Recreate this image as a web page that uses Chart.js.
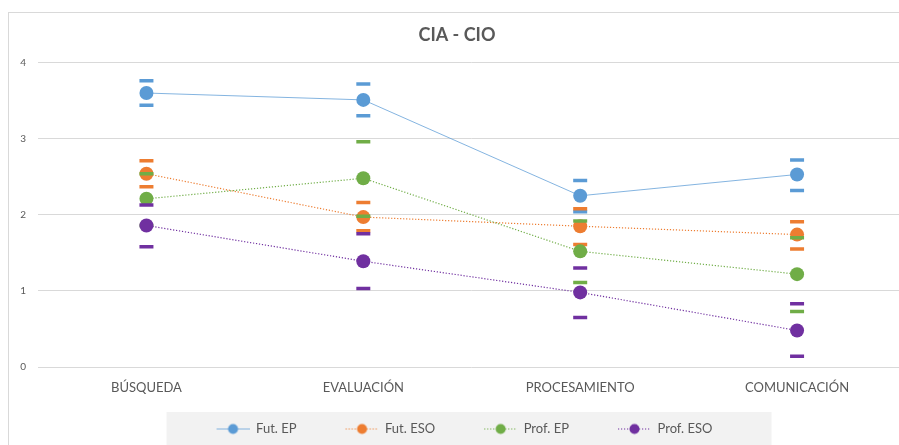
<!DOCTYPE html>
<html lang="es">
<head>
    <meta charset="UTF-8">
    <title>CIA - CIO</title>
    <script src="https://cdn.jsdelivr.net/npm/chart.js"></script>
</head>
<style type="text/css">
  html, body {
    margin: 0;
    padding: 0;
    background: #ffffff;
    overflow: hidden;
  }
  canvas {
    display: block;
  }
</style>
<body>
    <canvas id="graph" width="916" height="445"></canvas>
    <script>
// categorías y valores
const categories = ['BÚSQUEDA', 'EVALUACIÓN', 'PROCESAMIENTO', 'COMUNICACIÓN'];
const seriesNames = ['Fut. EP', 'Fut. ESO', 'Prof. EP', 'Prof. ESO'];
const yTicks = [0, 1, 2, 3, 4];

const futEP = [3.60, 3.51, 2.25, 2.53];
const futESO = [2.54, 1.97, 1.85, 1.74];
const profEP = [2.21, 2.48, 1.52, 1.22];
const profESO = [1.86, 1.39, 0.98, 0.48];

// extremos de las barras de error (guiones)
const futEPUpper = [3.76, 3.72, 2.45, 2.72];
const futEPLower = [3.44, 3.30, 2.04, 2.32];
const futESOUpper = [2.71, 2.16, 2.08, 1.91];
const futESOLower = [2.37, 1.79, 1.61, 1.55];
const profEPUpper = [2.54, 2.96, 1.92, 1.70];
const profEPLower = [1.86, 1.98, 1.11, 0.73];
const profESOUpper = [2.13, 1.75, 1.30, 0.83];
const profESOLower = [1.58, 1.03, 0.65, 0.14];

const colors = ['#5B9BD5', '#ED7D31', '#70AD47', '#7030A0'];
const dashes = [[], [1.2, 1.8], [1.2, 1.8], [1.2, 1.8]];
const widths = [0.75, 1.2, 1.2, 1.2];

const values = [futEP, futESO, profEP, profESO];
const uppers = [futEPUpper, futESOUpper, profEPUpper, profESOUpper];
const lowers = [futEPLower, futESOLower, profEPLower, profESOLower];

const textColor = '#595959';
const fontFamily = 'Lato, "Open Sans", sans-serif';

// símbolo de la leyenda: línea con círculo
function legendSymbol(color, dash, width) {
    const c = document.createElement('canvas');
    c.width = 76;
    c.height = 14;
    const g = c.getContext('2d');
    g.strokeStyle = color;
    g.lineWidth = width;
    g.setLineDash(dash);
    g.beginPath();
    g.moveTo(43, 7.5);
    g.lineTo(76, 7.5);
    g.stroke();
    g.setLineDash([]);
    g.fillStyle = color;
    g.beginPath();
    g.arc(59.5, 7.5, 5, 0, Math.PI * 2);
    g.fill();
    return c;
}
const symbols = colors.map((c, i) => legendSymbol(c, dashes[i], widths[i]));

const datasets = [];
values.forEach((v, i) => {
    datasets.push({
        label: seriesNames[i],
        data: v,
        borderColor: colors[i],
        backgroundColor: colors[i],
        borderWidth: widths[i],
        borderDash: dashes[i],
        pointStyle: 'circle',
        pointRadius: 7,
        pointHoverRadius: 7,
        pointBorderWidth: 0,
        fill: false,
        order: 80 - i * 20
    });
});
values.forEach((v, i) => {
    [uppers[i], lowers[i]].forEach((d) => {
        datasets.push({
            label: seriesNames[i] + ' error',
            data: d,
            showLine: false,
            pointStyle: 'line',
            pointRadius: 7,
            pointHoverRadius: 7,
            pointBorderColor: colors[i],
            pointBorderWidth: 3.5,
            borderColor: colors[i],
            order: 70 - i * 20
        });
    });
});

const backdrop = {
    id: 'backdrop',
    afterLayout(chart) {
        // la leyenda está un poco a la izquierda del centro
        chart.legend.left -= 14;
        chart.legend.right -= 14;
    },
    beforeDraw(chart) {
        const c = chart.ctx;
        const lg = chart.legend;
        c.save();
        // borde del área del gráfico
        c.strokeStyle = '#d9d9d9';
        c.lineWidth = 1;
        c.strokeRect(8.5, 12.5, 900, 500);
        // fondo gris de la leyenda
        const pad = lg.options.labels.padding;
        const start = (lg.left + pad + lg.right - lg.lineWidths[0]) / 2;
        c.fillStyle = '#f2f2f2';
        c.fillRect(start + 43 - 50, lg.top - 4, 605, chart.height - lg.top + 4);
        c.restore();
    }
};

const ctx = document.getElementById('graph').getContext('2d');
let chart = new Chart(ctx, {
    type: 'line',
    data: {
        labels: categories,
        datasets: datasets
    },
    plugins: [backdrop],
    options: {
        responsive: false,
        animation: false,
        events: [],
        layout: {
            padding: { left: 8, right: 10, top: 12, bottom: 0 }
        },
        plugins: {
            title: {
                display: true,
                text: 'CIA - CIO',
                color: textColor,
                font: { family: fontFamily, size: 18, weight: 'bold' },
                padding: { top: 12, bottom: 17 }
            },
            legend: {
                position: 'bottom',
                labels: {
                    color: textColor,
                    font: { family: fontFamily, size: 13 },
                    usePointStyle: true,
                    pointStyleWidth: 76,
                    padding: 6,
                    filter: (item) => item.datasetIndex < 4,
                    sort: (a, b) => a.datasetIndex - b.datasetIndex,
                    generateLabels: (chart) => {
                        const items = Chart.defaults.plugins.legend.labels.generateLabels(chart);
                        items.forEach((it) => {
                            if (it.datasetIndex < 4) it.pointStyle = symbols[it.datasetIndex];
                        });
                        return items;
                    }
                }
            },
            tooltip: { enabled: false }
        },
        scales: {
            x: {
                offset: true,
                grid: { display: false },
                border: { display: false },
                ticks: {
                    color: textColor,
                    font: { family: fontFamily, size: 13 },
                    padding: 5,
                    maxRotation: 0
                },
                afterFit: (scale) => { scale.height = 49; }
            },
            y: {
                min: 0,
                max: 4,
                afterBuildTicks: (scale) => { scale.ticks = yTicks.map((v) => ({ value: v })); },
                grid: { color: '#d9d9d9', lineWidth: 1, drawTicks: false },
                border: { display: false },
                ticks: {
                    color: textColor,
                    font: { family: fontFamily, size: 10 },
                    padding: 12
                },
                afterFit: (scale) => { scale.width = 30; }
            }
        }
    }
});
    </script>
</body>
</html>
